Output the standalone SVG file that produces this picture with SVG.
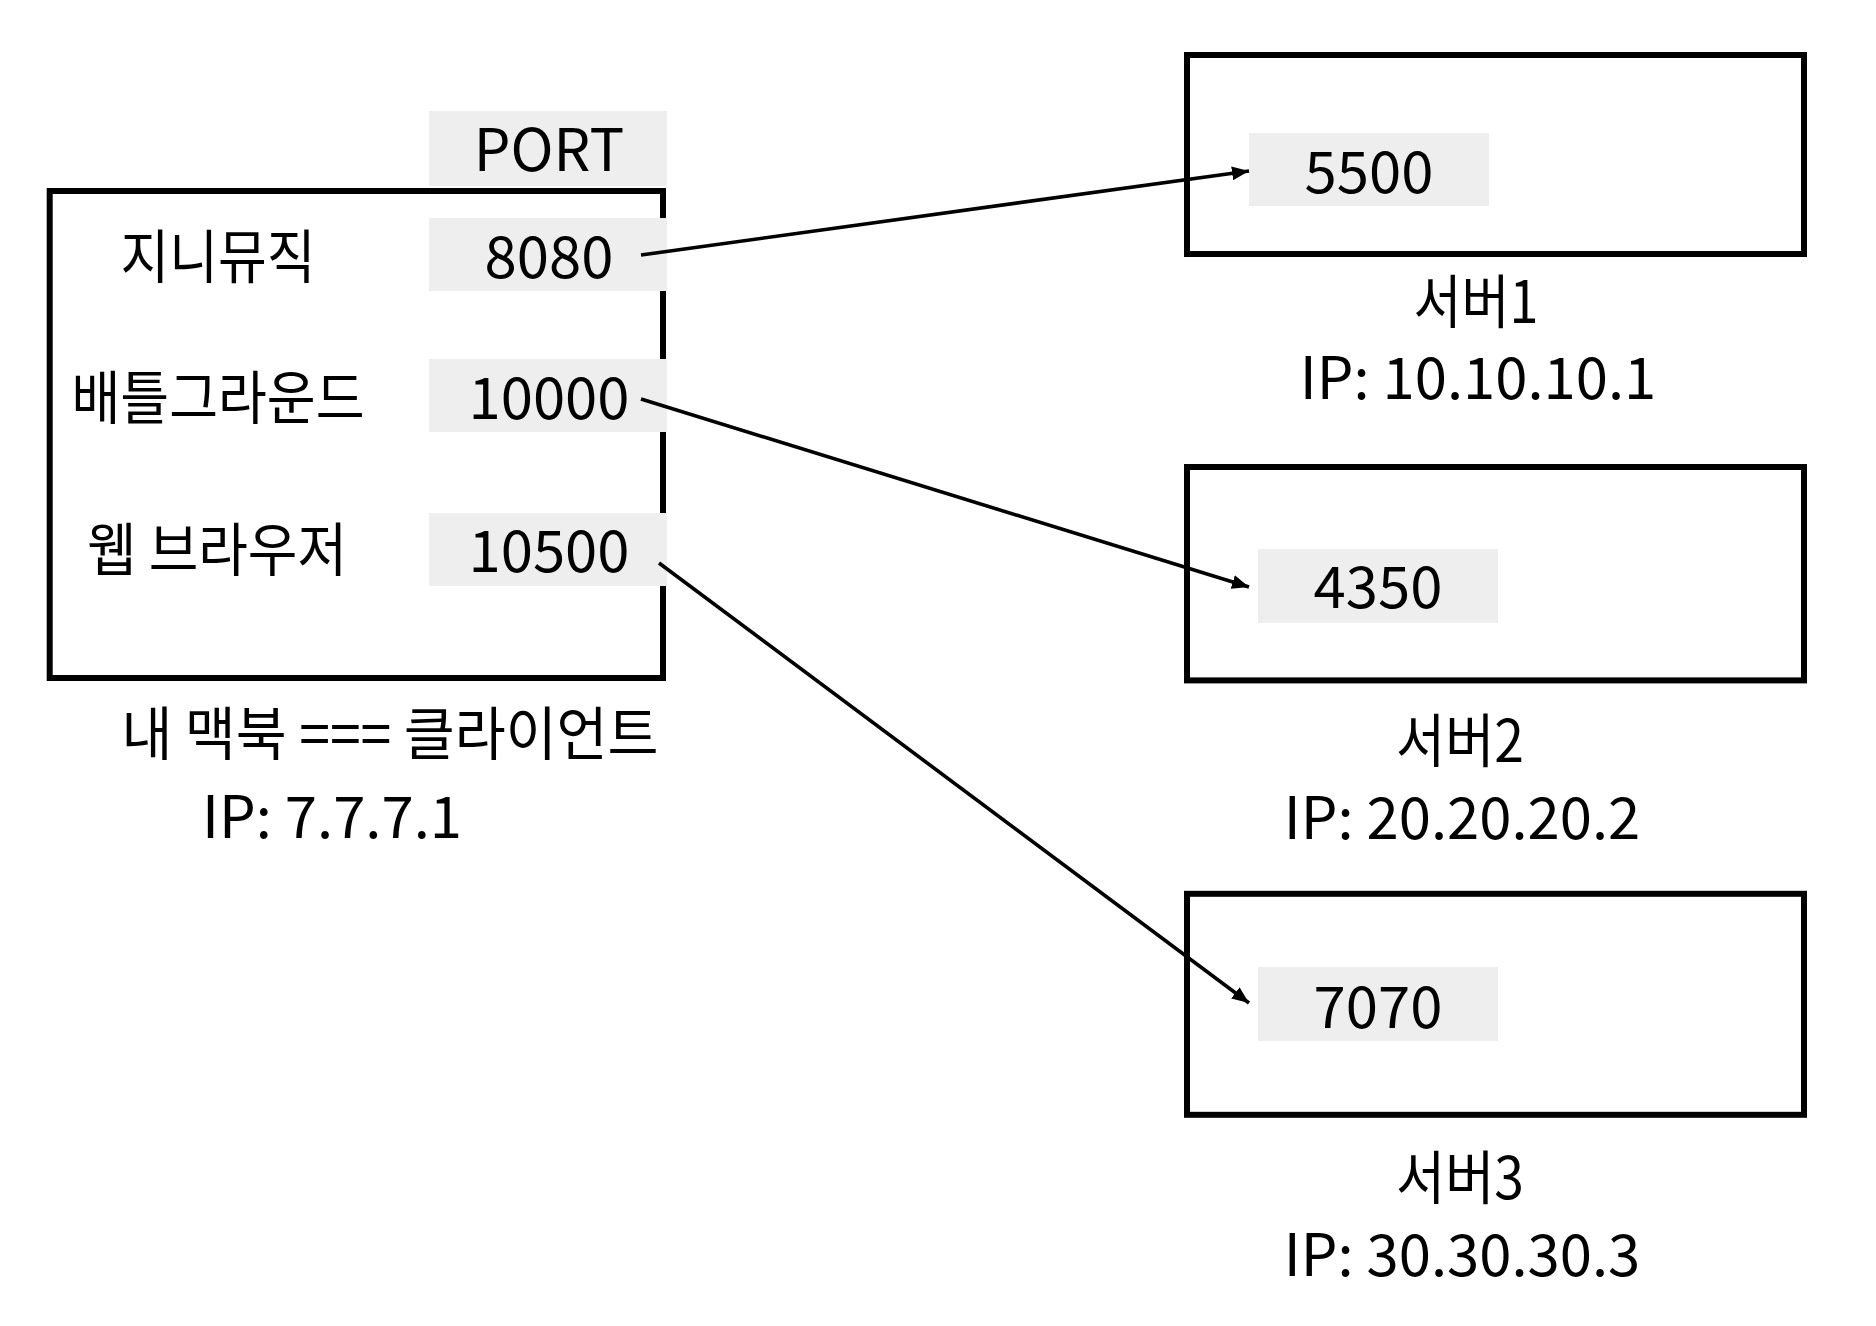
<svg xmlns="http://www.w3.org/2000/svg" width="1876" height="1326" viewBox="0 0 1876 1326">
<style>
.box{fill:none;stroke:#000;stroke-width:6}
.port{fill:#eeeeee}
.t{font-family:"Noto Sans CJK KR","Noto Sans",sans-serif;font-size:58px;fill:#000;text-anchor:middle}
.ln{stroke:#000;stroke-width:3.6;fill:none}
</style>
<defs>
<marker id="ah" markerUnits="userSpaceOnUse" markerWidth="17" markerHeight="14" refX="17" refY="7" orient="auto">
<path d="M0,0 L17,7 L0,14 Z" fill="#000"/>
</marker>
</defs>
<rect width="1876" height="1326" fill="#fff"/>
<g id="client">
<rect class="box" x="49.7" y="191" width="613.3" height="487"/>
<rect class="port" x="429" y="111" width="238" height="75"/>
<rect class="port" x="429" y="218" width="238" height="73"/>
<rect class="port" x="429" y="359" width="238" height="73"/>
<rect class="port" x="429" y="513" width="238" height="73"/>
<text class="t" x="549" y="171">PORT</text>
<text class="t" x="218" y="278" textLength="195" lengthAdjust="spacingAndGlyphs">지니뮤직</text>
<text class="t" x="549" y="278">8080</text>
<text class="t" x="218" y="419" textLength="293" lengthAdjust="spacingAndGlyphs">배틀그라운드</text>
<text class="t" x="549" y="419">10000</text>
<text class="t" x="217" y="571" textLength="260" lengthAdjust="spacingAndGlyphs">웹 브라우저</text>
<text class="t" x="549" y="572">10500</text>
<text class="t" x="390" y="755" textLength="537" lengthAdjust="spacingAndGlyphs">내 맥북 === 클라이언트</text>
<text class="t" x="332" y="838">IP: 7.7.7.1</text>
</g>
<g id="server1">
<rect class="box" x="1187" y="55" width="617" height="199"/>
<rect class="port" x="1249" y="133" width="240" height="73"/>
<text class="t" x="1369" y="193">5500</text>
<text class="t" x="1476" y="323" textLength="125" lengthAdjust="spacingAndGlyphs">서버1</text>
<text class="t" x="1478" y="399">IP: 10.10.10.1</text>
</g>
<g id="server2">
<rect class="box" x="1187" y="467" width="617" height="213.4"/>
<rect class="port" x="1258" y="549" width="240" height="74"/>
<text class="t" x="1378" y="608">4350</text>
<text class="t" x="1460" y="762" textLength="128" lengthAdjust="spacingAndGlyphs">서버2</text>
<text class="t" x="1462" y="839">IP: 20.20.20.2</text>
</g>
<g id="server3">
<rect class="box" x="1187" y="893.8" width="617" height="221"/>
<rect class="port" x="1258" y="967" width="240" height="74"/>
<text class="t" x="1378" y="1028">7070</text>
<text class="t" x="1460" y="1199" textLength="128" lengthAdjust="spacingAndGlyphs">서버3</text>
<text class="t" x="1462" y="1276">IP: 30.30.30.3</text>
</g>
<g id="connectors">
<line class="ln" x1="641" y1="255" x2="1249" y2="171" marker-end="url(#ah)"/>
<line class="ln" x1="641" y1="399" x2="1249" y2="587" marker-end="url(#ah)"/>
<line class="ln" x1="659" y1="563" x2="1249" y2="1003" marker-end="url(#ah)"/>
</g>
</svg>
